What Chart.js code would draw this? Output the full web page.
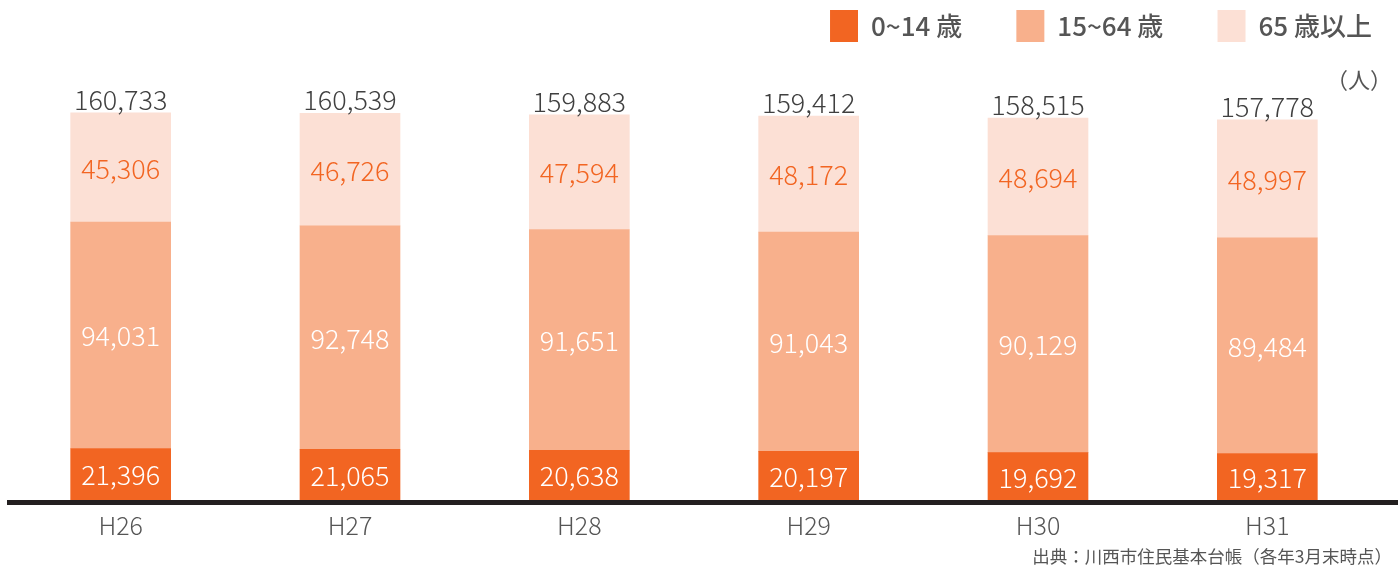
<!DOCTYPE html>
<html>
<head>
<meta charset="utf-8">
<script src="https://cdn.jsdelivr.net/npm/chart.js@4"></script>
<style>
  html, body { margin: 0; padding: 0; background: #fff; }
  #wrap { width: 1398px; height: 571px; }
</style>
</head>
<body>
<div id="wrap"><canvas id="pop"></canvas></div>
<script>
var years = ['H26', 'H27', 'H28', 'H29', 'H30', 'H31'];
var child = [21396, 21065, 20638, 20197, 19692, 19317];
var working = [94031, 92748, 91651, 91043, 90129, 89484];
var elderly = [45306, 46726, 47594, 48172, 48694, 48997];
var totals = [160733, 160539, 159883, 159412, 158515, 157778];
var seriesNames = ['0~14 歳', '15~64 歳', '65 歳以上'];

var FONT = "'Noto Sans CJK JP', 'Noto Sans', sans-serif";

// 値ラベル・合計・基線・注記
var labelPlugin = {
  id: 'labelPlugin',
  afterDatasetsDraw: function (chart) {
    var ctx = chart.ctx;
    var area = chart.chartArea;
    ctx.save();

    // 太い基線
    ctx.strokeStyle = '#231f20';
    ctx.lineWidth = 5;
    ctx.beginPath();
    ctx.moveTo(7, area.bottom + 2.5);
    ctx.lineTo(1398, area.bottom + 2.5);
    ctx.stroke();

    ctx.font = '300 27px ' + FONT;
    ctx.textAlign = 'center';
    ctx.textBaseline = 'middle';
    var colors = ['#ffffff', '#ffffff', '#f26522'];
    chart.data.datasets.forEach(function (ds, i) {
      var meta = chart.getDatasetMeta(i);
      meta.data.forEach(function (bar, j) {
        var p = bar.getProps(['x', 'y', 'base'], true);
        ctx.fillStyle = colors[i];
        ctx.fillText(ds.data[j].toLocaleString('en-US'), p.x, (p.y + p.base) / 2 + 1);
      });
    });

    var top = chart.getDatasetMeta(2);
    ctx.fillStyle = '#404040';
    ctx.textBaseline = 'bottom';
    top.data.forEach(function (bar, j) {
      ctx.fillText(totals[j].toLocaleString('en-US'), bar.x, bar.y);
    });

    ctx.fillStyle = '#555';
    ctx.textAlign = 'right';
    ctx.textBaseline = 'middle';
    ctx.font = '22px ' + FONT;
    ctx.fillText('（人）', 1392, 80);
    ctx.font = '17.5px ' + FONT;
    ctx.fillText('出典：川西市住民基本台帳（各年3月末時点）', 1392, 556);
    ctx.restore();
  }
};

var ctx = document.getElementById('pop');
var chart = new Chart(ctx, {
  type: 'bar',
  data: {
    labels: years,
    datasets: [
      { label: seriesNames[0], data: child, backgroundColor: '#f26522' },
      { label: seriesNames[1], data: working, backgroundColor: '#f8b08c' },
      { label: seriesNames[2], data: elderly, backgroundColor: '#fce0d5' }
    ]
  },
  options: {
    responsive: true,
    maintainAspectRatio: false,
    animation: false,
    barThickness: 100,
    layout: { padding: { left: 6, right: 16, top: 0, bottom: 21 } },
    plugins: {
      tooltip: { enabled: false },
      legend: {
        position: 'top',
        align: 'end',
        labels: {
          boxWidth: 28,
          boxHeight: 32,
          padding: 10,
          color: '#555',
          font: { family: FONT, size: 26, weight: 500 },
          generateLabels: function (c) {
            var items = Chart.defaults.plugins.legend.labels.generateLabels(c);
            items.forEach(function (it, i) {
              it.lineWidth = 0;
              // 項目間の余白
              if (i < items.length - 1) it.text = it.text + '\u2003\u2002\u2009';
            });
            return items;
          }
        }
      }
    },
    scales: {
      x: {
        stacked: true,
        grid: { display: false, drawTicks: false },
        border: { display: false },
        ticks: { color: '#555', font: { family: FONT, size: 25, weight: 300 }, padding: 10 }
      },
      y: {
        stacked: true,
        display: false,
        min: 0,
        max: 186000
      }
    }
  },
  plugins: [labelPlugin]
});
</script>
</body>
</html>
